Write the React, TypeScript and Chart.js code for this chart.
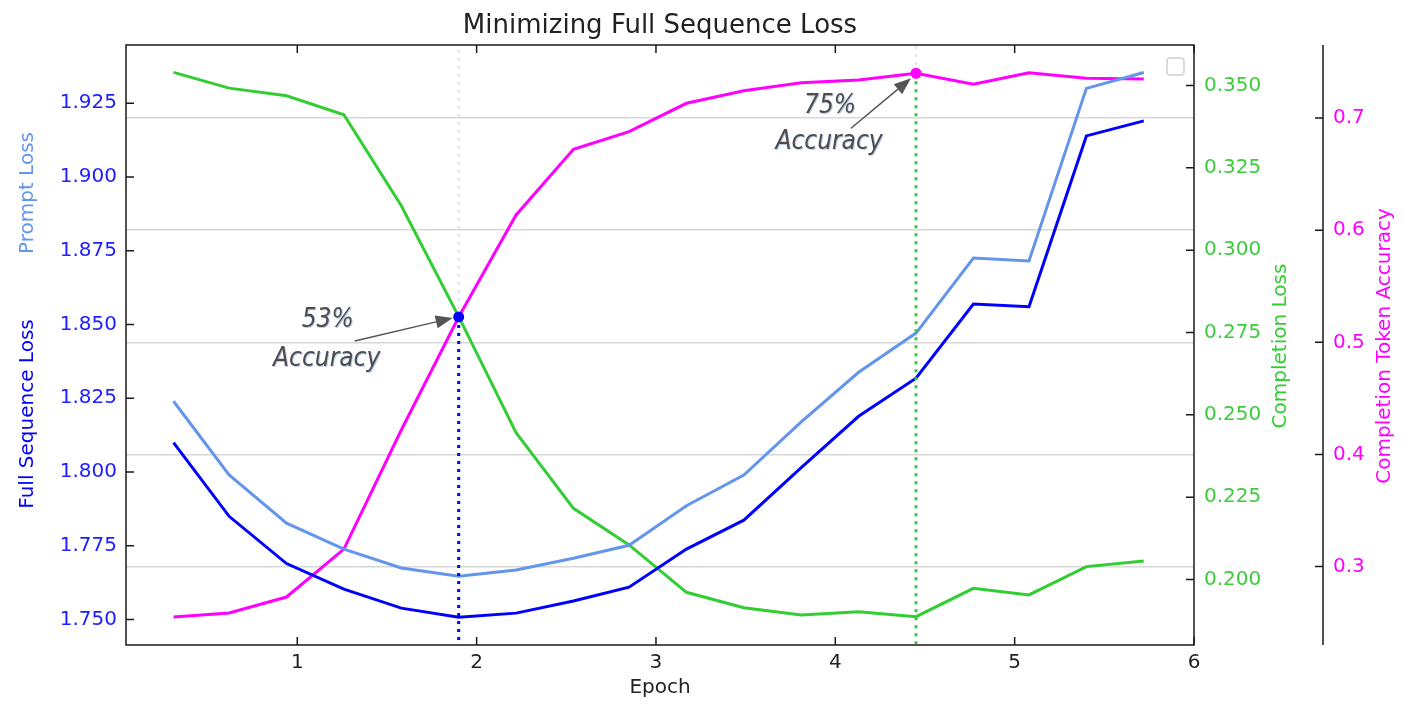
import { useEffect, useRef } from "react"
import { Chart, registerables } from "chart.js"

Chart.register(...registerables)

// data
const epochs = [0.31, 0.62, 0.94, 1.26, 1.58, 1.9, 2.22, 2.54, 2.85, 3.17, 3.49, 3.81, 4.13, 4.45, 4.77, 5.08, 5.4, 5.72]
const fullSeqLoss = [1.81, 1.785, 1.769, 1.7603, 1.7539, 1.7508, 1.7522, 1.7563, 1.761, 1.7739, 1.7837, 1.8015, 1.8189, 1.8318, 1.8569, 1.856, 1.9139, 1.919]
const promptLoss = [1.824, 1.799, 1.7827, 1.7739, 1.7675, 1.7647, 1.7668, 1.7708, 1.7752, 1.7886, 1.799, 1.817, 1.8338, 1.8471, 1.8725, 1.8715, 1.93, 1.9354]
const completionLoss = [0.354, 0.3492, 0.3469, 0.3411, 0.3135, 0.2798, 0.2446, 0.2216, 0.2105, 0.1961, 0.1914, 0.1892, 0.1902, 0.1887, 0.1973, 0.1953, 0.2039, 0.2056]
const tokenAccuracy = [0.255, 0.2585, 0.2728, 0.3156, 0.4218, 0.5226, 0.6136, 0.6722, 0.6879, 0.7132, 0.7244, 0.7316, 0.734, 0.74, 0.7302, 0.7405, 0.7355, 0.7349]

const epochTicks = [1, 2, 3, 4, 5, 6]
const lossTicks = [1.75, 1.775, 1.8, 1.825, 1.85, 1.875, 1.9, 1.925]
const completionTicks = [0.2, 0.225, 0.25, 0.275, 0.3, 0.325, 0.35]
const accuracyTicks = [0.3, 0.4, 0.5, 0.6, 0.7]

const EPOCH_MIN = 0.045
const EPOCH_MAX = 6
const LOSS_MIN = 1.7414
const LOSS_MAX = 1.9447
const COMP_MIN = 0.1801
const COMP_MAX = 0.3623
const ACC_MIN = 0.23
const ACC_MAX = 0.7652

// annotated points: index into the series, marker colour, drop-line colour, label
const callouts = [
  { index: 5, marker: "#0000ff", drop: "#0000ff", label: ["53%", "Accuracy"] },
  { index: 13, marker: "#ff00ff", drop: "#32cd32", label: ["75%", "Accuracy"] },
]

const BLUE = "#0000ff"
const LIGHT_BLUE = "#6495ed"
const GREEN = "#32cd32"
const MAGENTA = "#ff00ff"
const FONT = "'DejaVu Sans', sans-serif"
const HAND = "italic 26px 'DejaVu Sans Condensed', 'Liberation Sans Narrow', sans-serif"

const points = (ys: number[]) => epochs.map((x, i) => ({ x, y: ys[i] }))

// offsets of the callout text/arrow relative to the marked point (px)
const calloutLayout = [
  { t1: [-131, 3], t2: [-132, 42], from: [-104, 24], to: [-6, 1] },
  { t1: [-86, 33], t2: [-87, 69], from: [-65, 55], to: [-5, 5] },
]

const decor = {
  id: "decor",
  afterDraw(chart: any) {
    const { ctx, chartArea: a, scales } = chart
    const tl = 8
    ctx.save()

    // plot frame and inward ticks
    ctx.strokeStyle = "#1a1a1a"
    ctx.lineWidth = 1.5
    ctx.strokeRect(a.left, a.top, a.right - a.left, a.bottom - a.top)
    ctx.beginPath()
    scales.x.ticks.forEach((t: any) => {
      const px = scales.x.getPixelForValue(t.value)
      ctx.moveTo(px, a.bottom)
      ctx.lineTo(px, a.bottom - tl)
      ctx.moveTo(px, a.top)
      ctx.lineTo(px, a.top + tl)
    })
    scales.yLoss.ticks.forEach((t: any) => {
      const py = scales.yLoss.getPixelForValue(t.value)
      ctx.moveTo(a.left, py)
      ctx.lineTo(a.left + tl, py)
    })
    scales.yComp.ticks.forEach((t: any) => {
      const py = scales.yComp.getPixelForValue(t.value)
      ctx.moveTo(a.right, py)
      ctx.lineTo(a.right - tl, py)
    })
    const sx = scales.yAcc.left
    ctx.moveTo(sx, a.top)
    ctx.lineTo(sx, a.bottom)
    scales.yAcc.ticks.forEach((t: any) => {
      const py = scales.yAcc.getPixelForValue(t.value)
      ctx.moveTo(sx, py)
      ctx.lineTo(sx - tl, py)
    })
    ctx.stroke()

    // empty legend box
    ctx.strokeStyle = "#d0d0d0"
    ctx.lineWidth = 1.5
    ctx.beginPath()
    ctx.roundRect(a.right - 27, a.top + 13, 17, 17, 3)
    ctx.stroke()

    // title
    ctx.fillStyle = "#222"
    ctx.font = `26px ${FONT}`
    ctx.textAlign = "center"
    ctx.textBaseline = "alphabetic"
    ctx.fillText("Minimizing Full Sequence Loss", (a.left + a.right) / 2, 25)

    // rotated axis titles
    const vtext = (txt: string, x: number, y: number, color: string) => {
      ctx.save()
      ctx.translate(x, y)
      ctx.rotate(-Math.PI / 2)
      ctx.fillStyle = color
      ctx.font = `20px ${FONT}`
      ctx.textAlign = "center"
      ctx.textBaseline = "middle"
      ctx.fillText(txt, 0, 0)
      ctx.restore()
    }
    vtext("Prompt Loss", 20, 185, LIGHT_BLUE)
    vtext("Full Sequence Loss", 20, 406, BLUE)
    vtext("Completion Loss", 1273, 338, GREEN)
    vtext("Completion Token Accuracy", 1377, 338, MAGENTA)

    // callouts
    callouts.forEach((c, k) => {
      const px = scales.x.getPixelForValue(epochs[c.index])
      const py = scales.yAcc.getPixelForValue(tokenAccuracy[c.index])
      const L = calloutLayout[k]
      const x0 = px + L.from[0]
      const y0 = py + L.from[1]
      const x1 = px + L.to[0]
      const y1 = py + L.to[1]
      const ang = Math.atan2(y1 - y0, x1 - x0)
      const hl = 17
      const hw = 6.5
      ctx.strokeStyle = "#555"
      ctx.fillStyle = "#555"
      ctx.lineWidth = 1.5
      ctx.beginPath()
      ctx.moveTo(x0, y0)
      ctx.lineTo(x1 - Math.cos(ang) * hl, y1 - Math.sin(ang) * hl)
      ctx.stroke()
      ctx.beginPath()
      ctx.moveTo(x1, y1)
      ctx.lineTo(x1 - Math.cos(ang) * hl - Math.sin(ang) * hw, y1 - Math.sin(ang) * hl + Math.cos(ang) * hw)
      ctx.lineTo(x1 - Math.cos(ang) * hl + Math.sin(ang) * hw, y1 - Math.sin(ang) * hl - Math.cos(ang) * hw)
      ctx.closePath()
      ctx.fill()

      ctx.font = HAND
      ctx.textAlign = "center"
      ctx.textBaseline = "middle"
      ctx.fillStyle = "#4d4d4d"
      ctx.shadowColor = "rgba(140,170,225,0.6)"
      ctx.shadowOffsetX = 1
      ctx.shadowOffsetY = 1
      ctx.fillText(c.label[0], px + L.t1[0], py + L.t1[1])
      ctx.fillText(c.label[1], px + L.t2[0], py + L.t2[1])
      ctx.shadowColor = "transparent"
    })

    ctx.restore()
  },
}

const fixedTicks = (values: number[]) => (axis: any) => {
  axis.ticks = values.map((value) => ({ value }))
}

export default function App() {
  const canvasRef = useRef<HTMLCanvasElement | null>(null)

  useEffect(() => {
    if (!canvasRef.current) return
    const line = (label: string, ys: number[], axis: string, color: string, width: number, order: number) => ({
      label,
      data: points(ys),
      yAxisID: axis,
      borderColor: color,
      backgroundColor: color,
      borderWidth: width,
      pointRadius: 0,
      pointHoverRadius: 0,
      tension: 0,
      order,
    })

    const drops: any[] = []
    callouts.forEach((c) => {
      const x = epochs[c.index]
      const y = tokenAccuracy[c.index]
      drops.push({
        data: [{ x, y }, { x, y: ACC_MIN }],
        yAxisID: "yAcc",
        borderColor: c.drop,
        borderWidth: 3,
        borderDash: [3, 5],
        pointRadius: 0,
        order: 1,
      })
      drops.push({
        data: [{ x, y }, { x, y: ACC_MAX }],
        yAxisID: "yAcc",
        borderColor: "rgba(205,205,240,0.6)",
        borderWidth: 2,
        borderDash: [3, 5],
        pointRadius: 0,
        order: 7,
      })
      drops.push({
        data: [{ x, y }],
        yAxisID: "yAcc",
        showLine: false,
        pointRadius: 5.5,
        pointBorderWidth: 0,
        pointBackgroundColor: c.marker,
        order: 0,
      })
    })

    const tickFont = { family: FONT, size: 20 }

    const chart = new Chart(canvasRef.current, {
      type: "line",
      data: {
        datasets: [
          line("Full Sequence Loss", fullSeqLoss, "yLoss", BLUE, 3, 2),
          line("Prompt Loss", promptLoss, "yLoss", LIGHT_BLUE, 3, 3),
          line("Completion Loss", completionLoss, "yComp", GREEN, 3, 4),
          line("Completion Token Accuracy", tokenAccuracy, "yAcc", MAGENTA, 3, 5),
          ...drops,
        ],
      },
      options: {
        animation: false,
        responsive: true,
        maintainAspectRatio: false,
        layout: { padding: { top: 37, left: 0, right: 0, bottom: 0 } },
        plugins: {
          legend: { display: false },
          tooltip: { enabled: false },
          title: { display: false },
        },
        scales: {
          x: {
            type: "linear",
            min: EPOCH_MIN,
            max: EPOCH_MAX,
            afterBuildTicks: fixedTicks(epochTicks),
            afterFit: (s: any) => {
              s.height = 57
            },
            grid: { display: false, drawTicks: false },
            border: { display: false },
            ticks: { color: "#222", font: tickFont, padding: 6, callback: (v: any) => String(v) },
            title: { display: true, text: "Epoch", color: "#222", font: tickFont, padding: { top: 0, bottom: 2 } },
          },
          yLoss: {
            type: "linear",
            position: "left",
            min: LOSS_MIN,
            max: LOSS_MAX,
            afterBuildTicks: fixedTicks(lossTicks),
            afterFit: (s: any) => {
              s.width = 118
            },
            grid: { display: false, drawTicks: false },
            border: { display: false },
            ticks: { color: "#2020ff", font: tickFont, padding: 9, callback: (v: any) => Number(v).toFixed(3) },
          },
          yComp: {
            type: "linear",
            position: "right",
            min: COMP_MIN,
            max: COMP_MAX,
            afterBuildTicks: fixedTicks(completionTicks),
            afterFit: (s: any) => {
              s.width = 129
            },
            grid: { display: false, drawTicks: false },
            border: { display: false },
            ticks: { color: "#3ccc3c", font: tickFont, padding: 10, callback: (v: any) => Number(v).toFixed(3) },
          },
          yAcc: {
            type: "linear",
            position: "right",
            min: ACC_MIN,
            max: ACC_MAX,
            afterBuildTicks: fixedTicks(accuracyTicks),
            afterFit: (s: any) => {
              s.width = 75
            },
            grid: { display: true, drawOnChartArea: true, drawTicks: false, color: "#d8d8d8", lineWidth: 1.5 },
            border: { display: false },
            ticks: { color: MAGENTA, font: tickFont, padding: 10, callback: (v: any) => Number(v).toFixed(1) },
          },
        },
      },
      plugins: [decor],
    })

    return () => {
      chart.destroy()
    }
  }, [])

  return (
    <div style={{ width: 1390, height: 694, position: "relative" }}>
      <canvas ref={canvasRef} />
    </div>
  )
}
